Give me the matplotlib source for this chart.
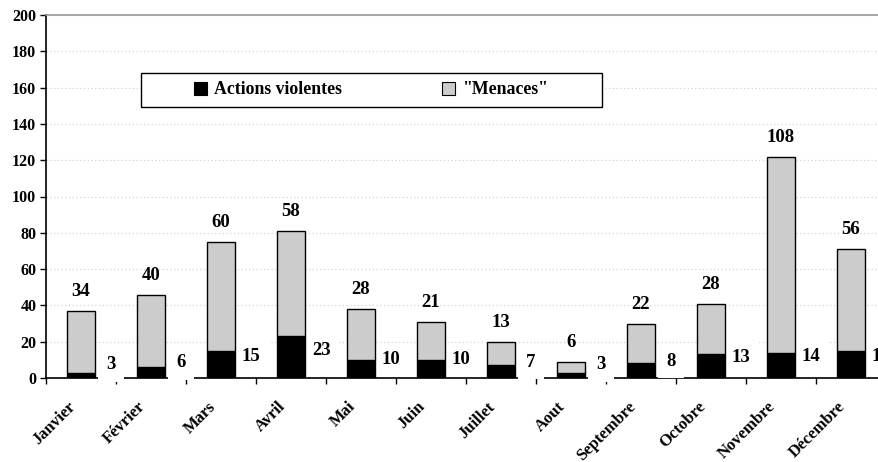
import matplotlib
matplotlib.use("Agg")
import matplotlib.pyplot as plt
import matplotlib.transforms as mtransforms
from matplotlib.patches import Rectangle, Patch
import numpy as np

# Monthly counts
months = ["Janvier", "Février", "Mars", "Avril", "Mai", "Juin",
          "Juillet", "Aout", "Septembre", "Octobre", "Novembre", "Décembre"]
violentes = [3, 6, 15, 23, 10, 10, 7, 3, 8, 13, 14, 15]
menaces = [34, 40, 60, 58, 28, 21, 13, 6, 22, 28, 108, 56]
y_ticks = [0, 20, 40, 60, 80, 100, 120, 140, 160, 180, 200]

FONT = "Liberation Serif"
BLACK = "#000000"
GREY = "#cccccc"

fig = plt.figure(figsize=(8.79, 4.62), dpi=100)
ax = fig.add_axes([46 / 879, 1 - 378 / 462, 840 / 879, 363 / 462])

x = np.arange(len(months))
width = 0.4
ax.bar(x, violentes, width, color=BLACK, edgecolor=BLACK, linewidth=1.0, zorder=3)
ax.bar(x, menaces, width, bottom=violentes, color=GREY, edgecolor=BLACK,
       linewidth=1.0, zorder=3)

ax.set_xlim(-0.5, len(months) - 0.5)
ax.set_ylim(0, 200)

# value labels: threats above the stack, violent actions to the right
for xi, v, m in zip(x, violentes, menaces):
    ax.annotate(str(m), (xi, v + m), xytext=(0, 14), textcoords="offset points",
                ha="center", va="center", fontsize=13.5, fontweight="bold",
                family=FONT, zorder=4)
    ax.text(xi + 0.43, 6 + 0.4 * v, str(v), ha="center", va="center",
            fontsize=13.5, fontweight="bold", family=FONT, zorder=2.2,
            bbox=dict(boxstyle="square,pad=0.45", facecolor="white",
                      edgecolor="none"))

# grid
ax.set_yticks(y_ticks)
ax.yaxis.grid(True, linestyle=(0, (1, 2)), color="#d4d4d4", linewidth=0.9, zorder=0)
ax.set_axisbelow(True)

# spines
ax.spines["right"].set_visible(False)
ax.spines["top"].set_color("#999999")
ax.spines["top"].set_linewidth(1.2)
ax.spines["left"].set_linewidth(1.2)
ax.spines["bottom"].set_linewidth(1.2)
ax.spines["bottom"].set_zorder(2)

ax.tick_params(axis="y", direction="out", length=4, width=1.0, pad=3)
for lab in ax.get_yticklabels():
    lab.set_fontfamily(FONT)
    lab.set_fontweight("bold")
    lab.set_fontsize(11.5)

# month labels
ax.set_xticks(x)
ax.set_xticks(np.arange(-0.5, len(months) - 0.4, 1.0), minor=True)
ax.tick_params(axis="x", which="major", length=0, pad=19)
ax.tick_params(axis="x", which="minor", direction="out", length=4, width=1.0)
ax.set_xticklabels(months, rotation=45, ha="right", va="center",
                   rotation_mode="anchor", fontsize=12, fontweight="bold",
                   family=FONT)
shift = mtransforms.ScaledTranslation(-8 / 100, 0, fig.dpi_scale_trans)
for lab in ax.get_xticklabels():
    lab.set_transform(lab.get_transform() + shift)

# legend
frame = Rectangle((141 / 879, 1 - 107 / 462), 461 / 879, 34 / 462,
                  transform=fig.transFigure, facecolor="white",
                  edgecolor=BLACK, linewidth=1.0, zorder=5)
fig.patches.append(frame)
handles = [Patch(facecolor=BLACK, edgecolor=BLACK, linewidth=0.8),
           Patch(facecolor=GREY, edgecolor=BLACK, linewidth=0.8)]
leg = fig.legend(handles, ["Actions violentes", '"Menaces"'], ncol=2,
                 loc="center left", bbox_to_anchor=(185 / 879, 1 - 90 / 462),
                 frameon=False, borderpad=0, handlelength=0.75, handleheight=0.75,
                 handletextpad=0.4, columnspacing=5.6,
                 prop=dict(family=FONT, weight="bold", size=12.8))
leg.set_zorder(6)

fig.savefig("out.png", dpi=100)
